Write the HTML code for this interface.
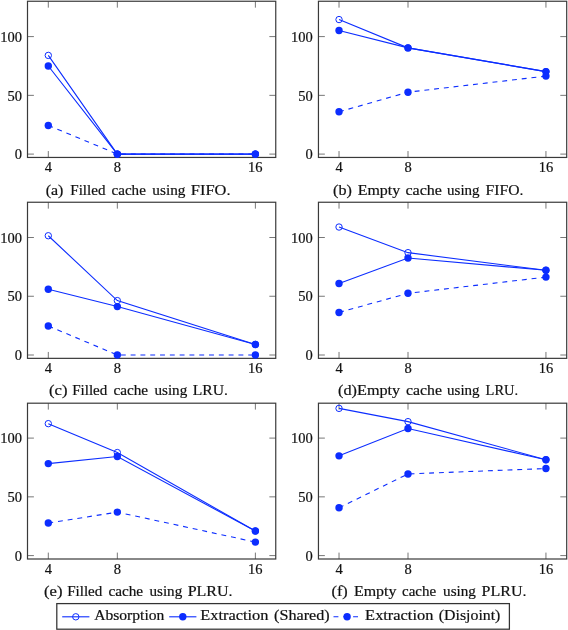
<!DOCTYPE html>
<html><head><meta charset="utf-8"><style>
html,body{margin:0;padding:0;background:#fff;}
body{width:568px;height:630px;overflow:hidden;}
svg{display:block;will-change:transform;}
text{font-family:"Liberation Serif",serif;font-size:14.2px;fill:#111;stroke:#111;stroke-width:0.2px;}
.xl{text-anchor:middle;}
.yl{text-anchor:end;}
.cap{text-anchor:middle;}
.ax{fill:none;stroke:#3a3a3a;stroke-width:1.2;}
.lg{fill:none;stroke:#333;stroke-width:1.25;}
.tk{stroke:#777;stroke-width:1;}
.ln{fill:none;stroke:rgb(12,45,255);stroke-width:1.1;}
.dash{stroke-dasharray:4.9 4.9;}
.mo{fill:none;stroke:rgb(12,45,255);stroke-width:1.0;}
.mf{fill:rgb(12,45,255);stroke:none;}
</style></head><body>
<svg width="568" height="630" viewBox="0 0 568 630">
<line class="tk" x1="48.3" y1="157.45" x2="48.3" y2="151.05"/>
<line class="tk" x1="48.3" y1="1.25" x2="48.3" y2="7.65"/>
<text class="xl" x="48.3" y="172.25" textLength="7.25" lengthAdjust="spacingAndGlyphs">4</text>
<line class="tk" x1="117.33" y1="157.45" x2="117.33" y2="151.05"/>
<line class="tk" x1="117.33" y1="1.25" x2="117.33" y2="7.65"/>
<text class="xl" x="117.33" y="172.25" textLength="7.25" lengthAdjust="spacingAndGlyphs">8</text>
<line class="tk" x1="255.38" y1="157.45" x2="255.38" y2="151.05"/>
<line class="tk" x1="255.38" y1="1.25" x2="255.38" y2="7.65"/>
<text class="xl" x="255.38" y="172.25" textLength="14.5" lengthAdjust="spacingAndGlyphs">16</text>
<line class="tk" x1="27.5" y1="154.1" x2="33.9" y2="154.1"/>
<line class="tk" x1="275.75" y1="154.1" x2="269.35" y2="154.1"/>
<text class="yl" x="21.9" y="159.3" textLength="7.25" lengthAdjust="spacingAndGlyphs">0</text>
<line class="tk" x1="27.5" y1="95.35" x2="33.9" y2="95.35"/>
<line class="tk" x1="275.75" y1="95.35" x2="269.35" y2="95.35"/>
<text class="yl" x="21.9" y="100.55" textLength="14.5" lengthAdjust="spacingAndGlyphs">50</text>
<line class="tk" x1="27.5" y1="36.6" x2="33.9" y2="36.6"/>
<line class="tk" x1="275.75" y1="36.6" x2="269.35" y2="36.6"/>
<text class="yl" x="21.9" y="41.8" textLength="21.75" lengthAdjust="spacingAndGlyphs">100</text>
<rect class="ax" x="27.5" y="1.25" width="248.25" height="156.2"/>
<polyline class="ln" points="48.3,55.4 117.33,154.1 255.38,154.1"/>
<circle class="mo" cx="48.3" cy="55.4" r="3.2"/>
<circle class="mo" cx="117.33" cy="154.1" r="3.2"/>
<circle class="mo" cx="255.38" cy="154.1" r="3.2"/>
<polyline class="ln" points="48.3,65.97 117.33,154.1 255.38,154.1"/>
<circle class="mf" cx="48.3" cy="65.97" r="3.7"/>
<circle class="mf" cx="117.33" cy="154.1" r="3.7"/>
<circle class="mf" cx="255.38" cy="154.1" r="3.7"/>
<polyline class="ln dash" points="48.3,125.43 117.33,154.1 255.38,154.1"/>
<circle class="mf" cx="48.3" cy="125.43" r="3.7"/>
<circle class="mf" cx="117.33" cy="154.1" r="3.7"/>
<circle class="mf" cx="255.38" cy="154.1" r="3.7"/>
<text class="w" x="45.73" y="195.0" textLength="17.72" lengthAdjust="spacingAndGlyphs">(a)</text>
<text class="w" x="70.28" y="195.0" textLength="35.17" lengthAdjust="spacingAndGlyphs">Filled</text>
<text class="w" x="111.57" y="195.0" textLength="34.27" lengthAdjust="spacingAndGlyphs">cache</text>
<text class="w" x="152.39" y="195.0" textLength="33.01" lengthAdjust="spacingAndGlyphs">using</text>
<text class="w" x="190.84" y="195.0" textLength="39.74" lengthAdjust="spacingAndGlyphs">FIFO.</text>
<line class="tk" x1="339.03" y1="157.45" x2="339.03" y2="151.05"/>
<line class="tk" x1="339.03" y1="1.25" x2="339.03" y2="7.65"/>
<text class="xl" x="339.03" y="172.25" textLength="7.25" lengthAdjust="spacingAndGlyphs">4</text>
<line class="tk" x1="408" y1="157.45" x2="408" y2="151.05"/>
<line class="tk" x1="408" y1="1.25" x2="408" y2="7.65"/>
<text class="xl" x="408" y="172.25" textLength="7.25" lengthAdjust="spacingAndGlyphs">8</text>
<line class="tk" x1="545.94" y1="157.45" x2="545.94" y2="151.05"/>
<line class="tk" x1="545.94" y1="1.25" x2="545.94" y2="7.65"/>
<text class="xl" x="545.94" y="172.25" textLength="14.5" lengthAdjust="spacingAndGlyphs">16</text>
<line class="tk" x1="318.45" y1="154.1" x2="324.85" y2="154.1"/>
<line class="tk" x1="566.7" y1="154.1" x2="560.3" y2="154.1"/>
<text class="yl" x="312.85" y="159.3" textLength="7.25" lengthAdjust="spacingAndGlyphs">0</text>
<line class="tk" x1="318.45" y1="95.35" x2="324.85" y2="95.35"/>
<line class="tk" x1="566.7" y1="95.35" x2="560.3" y2="95.35"/>
<text class="yl" x="312.85" y="100.55" textLength="14.5" lengthAdjust="spacingAndGlyphs">50</text>
<line class="tk" x1="318.45" y1="36.6" x2="324.85" y2="36.6"/>
<line class="tk" x1="566.7" y1="36.6" x2="560.3" y2="36.6"/>
<text class="yl" x="312.85" y="41.8" textLength="21.75" lengthAdjust="spacingAndGlyphs">100</text>
<rect class="ax" x="318.45" y="1.25" width="248.25" height="156.2"/>
<polyline class="ln" points="339.03,19.56 408,47.88 545.94,71.61"/>
<circle class="mo" cx="339.03" cy="19.56" r="3.2"/>
<circle class="mo" cx="408" cy="47.88" r="3.2"/>
<circle class="mo" cx="545.94" cy="71.61" r="3.2"/>
<polyline class="ln" points="339.03,30.49 408,47.88 545.94,71.61"/>
<circle class="mf" cx="339.03" cy="30.49" r="3.7"/>
<circle class="mf" cx="408" cy="47.88" r="3.7"/>
<circle class="mf" cx="545.94" cy="71.61" r="3.7"/>
<polyline class="ln dash" points="339.03,111.8 408,92.18 545.94,76.08"/>
<circle class="mf" cx="339.03" cy="111.8" r="3.7"/>
<circle class="mf" cx="408" cy="92.18" r="3.7"/>
<circle class="mf" cx="545.94" cy="76.08" r="3.7"/>
<text class="w" x="333.12" y="195.0" textLength="18.83" lengthAdjust="spacingAndGlyphs">(b)</text>
<text class="w" x="357.65" y="195.0" textLength="42.52" lengthAdjust="spacingAndGlyphs">Empty</text>
<text class="w" x="405.43" y="195.0" textLength="36.54" lengthAdjust="spacingAndGlyphs">cache</text>
<text class="w" x="447.09" y="195.0" textLength="32.50" lengthAdjust="spacingAndGlyphs">using</text>
<text class="w" x="485.56" y="195.0" textLength="37.87" lengthAdjust="spacingAndGlyphs">FIFO.</text>
<line class="tk" x1="48.3" y1="358.35" x2="48.3" y2="351.95"/>
<line class="tk" x1="48.3" y1="202.25" x2="48.3" y2="208.65"/>
<text class="xl" x="48.3" y="373.15" textLength="7.25" lengthAdjust="spacingAndGlyphs">4</text>
<line class="tk" x1="117.33" y1="358.35" x2="117.33" y2="351.95"/>
<line class="tk" x1="117.33" y1="202.25" x2="117.33" y2="208.65"/>
<text class="xl" x="117.33" y="373.15" textLength="7.25" lengthAdjust="spacingAndGlyphs">8</text>
<line class="tk" x1="255.38" y1="358.35" x2="255.38" y2="351.95"/>
<line class="tk" x1="255.38" y1="202.25" x2="255.38" y2="208.65"/>
<text class="xl" x="255.38" y="373.15" textLength="14.5" lengthAdjust="spacingAndGlyphs">16</text>
<line class="tk" x1="27.5" y1="355" x2="33.9" y2="355"/>
<line class="tk" x1="275.75" y1="355" x2="269.35" y2="355"/>
<text class="yl" x="21.9" y="360.2" textLength="7.25" lengthAdjust="spacingAndGlyphs">0</text>
<line class="tk" x1="27.5" y1="296.25" x2="33.9" y2="296.25"/>
<line class="tk" x1="275.75" y1="296.25" x2="269.35" y2="296.25"/>
<text class="yl" x="21.9" y="301.45" textLength="14.5" lengthAdjust="spacingAndGlyphs">50</text>
<line class="tk" x1="27.5" y1="237.5" x2="33.9" y2="237.5"/>
<line class="tk" x1="275.75" y1="237.5" x2="269.35" y2="237.5"/>
<text class="yl" x="21.9" y="242.7" textLength="21.75" lengthAdjust="spacingAndGlyphs">100</text>
<rect class="ax" x="27.5" y="202.25" width="248.25" height="156.1"/>
<polyline class="ln" points="48.3,235.74 117.33,300.6 255.38,344.43"/>
<circle class="mo" cx="48.3" cy="235.74" r="3.2"/>
<circle class="mo" cx="117.33" cy="300.6" r="3.2"/>
<circle class="mo" cx="255.38" cy="344.43" r="3.2"/>
<polyline class="ln" points="48.3,289.32 117.33,306.59 255.38,344.43"/>
<circle class="mf" cx="48.3" cy="289.32" r="3.7"/>
<circle class="mf" cx="117.33" cy="306.59" r="3.7"/>
<circle class="mf" cx="255.38" cy="344.43" r="3.7"/>
<polyline class="ln dash" points="48.3,325.98 117.33,355 255.38,355"/>
<circle class="mf" cx="48.3" cy="325.98" r="3.7"/>
<circle class="mf" cx="117.33" cy="355" r="3.7"/>
<circle class="mf" cx="255.38" cy="355" r="3.7"/>
<text class="w" x="49.00" y="394.9" textLength="18.48" lengthAdjust="spacingAndGlyphs">(c)</text>
<text class="w" x="72.18" y="394.9" textLength="35.17" lengthAdjust="spacingAndGlyphs">Filled</text>
<text class="w" x="113.46" y="394.9" textLength="34.69" lengthAdjust="spacingAndGlyphs">cache</text>
<text class="w" x="154.49" y="394.9" textLength="32.70" lengthAdjust="spacingAndGlyphs">using</text>
<text class="w" x="192.66" y="394.9" textLength="35.19" lengthAdjust="spacingAndGlyphs">LRU.</text>
<line class="tk" x1="339.03" y1="358.35" x2="339.03" y2="351.95"/>
<line class="tk" x1="339.03" y1="202.25" x2="339.03" y2="208.65"/>
<text class="xl" x="339.03" y="373.15" textLength="7.25" lengthAdjust="spacingAndGlyphs">4</text>
<line class="tk" x1="408" y1="358.35" x2="408" y2="351.95"/>
<line class="tk" x1="408" y1="202.25" x2="408" y2="208.65"/>
<text class="xl" x="408" y="373.15" textLength="7.25" lengthAdjust="spacingAndGlyphs">8</text>
<line class="tk" x1="545.94" y1="358.35" x2="545.94" y2="351.95"/>
<line class="tk" x1="545.94" y1="202.25" x2="545.94" y2="208.65"/>
<text class="xl" x="545.94" y="373.15" textLength="14.5" lengthAdjust="spacingAndGlyphs">16</text>
<line class="tk" x1="318.45" y1="355" x2="324.85" y2="355"/>
<line class="tk" x1="566.7" y1="355" x2="560.3" y2="355"/>
<text class="yl" x="312.85" y="360.2" textLength="7.25" lengthAdjust="spacingAndGlyphs">0</text>
<line class="tk" x1="318.45" y1="296.25" x2="324.85" y2="296.25"/>
<line class="tk" x1="566.7" y1="296.25" x2="560.3" y2="296.25"/>
<text class="yl" x="312.85" y="301.45" textLength="14.5" lengthAdjust="spacingAndGlyphs">50</text>
<line class="tk" x1="318.45" y1="237.5" x2="324.85" y2="237.5"/>
<line class="tk" x1="566.7" y1="237.5" x2="560.3" y2="237.5"/>
<text class="yl" x="312.85" y="242.7" textLength="21.75" lengthAdjust="spacingAndGlyphs">100</text>
<rect class="ax" x="318.45" y="202.25" width="248.25" height="156.1"/>
<polyline class="ln" points="339.03,227.04 408,252.66 545.94,270.28"/>
<circle class="mo" cx="339.03" cy="227.04" r="3.2"/>
<circle class="mo" cx="408" cy="252.66" r="3.2"/>
<circle class="mo" cx="545.94" cy="270.28" r="3.2"/>
<polyline class="ln" points="339.03,283.56 408,258.06 545.94,270.28"/>
<circle class="mf" cx="339.03" cy="283.56" r="3.7"/>
<circle class="mf" cx="408" cy="258.06" r="3.7"/>
<circle class="mf" cx="545.94" cy="270.28" r="3.7"/>
<polyline class="ln dash" points="339.03,312.46 408,293.31 545.94,277.1"/>
<circle class="mf" cx="339.03" cy="312.46" r="3.7"/>
<circle class="mf" cx="408" cy="293.31" r="3.7"/>
<circle class="mf" cx="545.94" cy="277.1" r="3.7"/>
<text class="w" x="338.12" y="394.9" textLength="62.11" lengthAdjust="spacingAndGlyphs">(d)Empty</text>
<text class="w" x="406.04" y="394.9" textLength="35.92" lengthAdjust="spacingAndGlyphs">cache</text>
<text class="w" x="447.09" y="394.9" textLength="32.50" lengthAdjust="spacingAndGlyphs">using</text>
<text class="w" x="485.59" y="394.9" textLength="32.47" lengthAdjust="spacingAndGlyphs">LRU.</text>
<line class="tk" x1="48.3" y1="559" x2="48.3" y2="552.6"/>
<line class="tk" x1="48.3" y1="403.2" x2="48.3" y2="409.6"/>
<text class="xl" x="48.3" y="573.8" textLength="7.25" lengthAdjust="spacingAndGlyphs">4</text>
<line class="tk" x1="117.33" y1="559" x2="117.33" y2="552.6"/>
<line class="tk" x1="117.33" y1="403.2" x2="117.33" y2="409.6"/>
<text class="xl" x="117.33" y="573.8" textLength="7.25" lengthAdjust="spacingAndGlyphs">8</text>
<line class="tk" x1="255.38" y1="559" x2="255.38" y2="552.6"/>
<line class="tk" x1="255.38" y1="403.2" x2="255.38" y2="409.6"/>
<text class="xl" x="255.38" y="573.8" textLength="14.5" lengthAdjust="spacingAndGlyphs">16</text>
<line class="tk" x1="27.5" y1="555.6" x2="33.9" y2="555.6"/>
<line class="tk" x1="275.75" y1="555.6" x2="269.35" y2="555.6"/>
<text class="yl" x="21.9" y="560.8" textLength="7.25" lengthAdjust="spacingAndGlyphs">0</text>
<line class="tk" x1="27.5" y1="496.85" x2="33.9" y2="496.85"/>
<line class="tk" x1="275.75" y1="496.85" x2="269.35" y2="496.85"/>
<text class="yl" x="21.9" y="502.05" textLength="14.5" lengthAdjust="spacingAndGlyphs">50</text>
<line class="tk" x1="27.5" y1="438.1" x2="33.9" y2="438.1"/>
<line class="tk" x1="275.75" y1="438.1" x2="269.35" y2="438.1"/>
<text class="yl" x="21.9" y="443.3" textLength="21.75" lengthAdjust="spacingAndGlyphs">100</text>
<rect class="ax" x="27.5" y="403.2" width="248.25" height="155.8"/>
<polyline class="ln" points="48.3,423.65 117.33,452.55 255.38,531.04"/>
<circle class="mo" cx="48.3" cy="423.65" r="3.2"/>
<circle class="mo" cx="117.33" cy="452.55" r="3.2"/>
<circle class="mo" cx="255.38" cy="531.04" r="3.2"/>
<polyline class="ln" points="48.3,463.6 117.33,456.55 255.38,531.04"/>
<circle class="mf" cx="48.3" cy="463.6" r="3.7"/>
<circle class="mf" cx="117.33" cy="456.55" r="3.7"/>
<circle class="mf" cx="255.38" cy="531.04" r="3.7"/>
<polyline class="ln dash" points="48.3,523.05 117.33,512.12 255.38,542.09"/>
<circle class="mf" cx="48.3" cy="523.05" r="3.7"/>
<circle class="mf" cx="117.33" cy="512.12" r="3.7"/>
<circle class="mf" cx="255.38" cy="542.09" r="3.7"/>
<text class="w" x="44.00" y="595.9" textLength="18.48" lengthAdjust="spacingAndGlyphs">(e)</text>
<text class="w" x="67.18" y="595.9" textLength="35.17" lengthAdjust="spacingAndGlyphs">Filled</text>
<text class="w" x="108.46" y="595.9" textLength="34.69" lengthAdjust="spacingAndGlyphs">cache</text>
<text class="w" x="149.49" y="595.9" textLength="32.70" lengthAdjust="spacingAndGlyphs">using</text>
<text class="w" x="187.65" y="595.9" textLength="44.92" lengthAdjust="spacingAndGlyphs">PLRU.</text>
<line class="tk" x1="339.03" y1="559" x2="339.03" y2="552.6"/>
<line class="tk" x1="339.03" y1="403.2" x2="339.03" y2="409.6"/>
<text class="xl" x="339.03" y="573.8" textLength="7.25" lengthAdjust="spacingAndGlyphs">4</text>
<line class="tk" x1="408" y1="559" x2="408" y2="552.6"/>
<line class="tk" x1="408" y1="403.2" x2="408" y2="409.6"/>
<text class="xl" x="408" y="573.8" textLength="7.25" lengthAdjust="spacingAndGlyphs">8</text>
<line class="tk" x1="545.94" y1="559" x2="545.94" y2="552.6"/>
<line class="tk" x1="545.94" y1="403.2" x2="545.94" y2="409.6"/>
<text class="xl" x="545.94" y="573.8" textLength="14.5" lengthAdjust="spacingAndGlyphs">16</text>
<line class="tk" x1="318.45" y1="555.6" x2="324.85" y2="555.6"/>
<line class="tk" x1="566.7" y1="555.6" x2="560.3" y2="555.6"/>
<text class="yl" x="312.85" y="560.8" textLength="7.25" lengthAdjust="spacingAndGlyphs">0</text>
<line class="tk" x1="318.45" y1="496.85" x2="324.85" y2="496.85"/>
<line class="tk" x1="566.7" y1="496.85" x2="560.3" y2="496.85"/>
<text class="yl" x="312.85" y="502.05" textLength="14.5" lengthAdjust="spacingAndGlyphs">50</text>
<line class="tk" x1="318.45" y1="438.1" x2="324.85" y2="438.1"/>
<line class="tk" x1="566.7" y1="438.1" x2="560.3" y2="438.1"/>
<text class="yl" x="312.85" y="443.3" textLength="21.75" lengthAdjust="spacingAndGlyphs">100</text>
<rect class="ax" x="318.45" y="403.2" width="248.25" height="155.8"/>
<polyline class="ln" points="339.03,408.37 408,421.65 545.94,459.72"/>
<circle class="mo" cx="339.03" cy="408.37" r="3.2"/>
<circle class="mo" cx="408" cy="421.65" r="3.2"/>
<circle class="mo" cx="545.94" cy="459.72" r="3.2"/>
<polyline class="ln" points="339.03,455.84 408,428.47 545.94,459.72"/>
<circle class="mf" cx="339.03" cy="455.84" r="3.7"/>
<circle class="mf" cx="408" cy="428.47" r="3.7"/>
<circle class="mf" cx="545.94" cy="459.72" r="3.7"/>
<polyline class="ln dash" points="339.03,507.78 408,473.94 545.94,468.53"/>
<circle class="mf" cx="339.03" cy="507.78" r="3.7"/>
<circle class="mf" cx="408" cy="473.94" r="3.7"/>
<circle class="mf" cx="545.94" cy="468.53" r="3.7"/>
<text class="w" x="331.51" y="595.9" textLength="16.26" lengthAdjust="spacingAndGlyphs">(f)</text>
<text class="w" x="353.95" y="595.9" textLength="42.52" lengthAdjust="spacingAndGlyphs">Empty</text>
<text class="w" x="402.07" y="595.9" textLength="34.07" lengthAdjust="spacingAndGlyphs">cache</text>
<text class="w" x="443.09" y="595.9" textLength="32.80" lengthAdjust="spacingAndGlyphs">using</text>
<text class="w" x="481.55" y="595.9" textLength="44.92" lengthAdjust="spacingAndGlyphs">PLRU.</text>

<rect class="lg" x="56.8" y="603.6" width="452.6" height="25.6"/>
<line class="ln" x1="62.2" y1="616.8" x2="89.4" y2="616.8"/><circle class="mo" cx="75.8" cy="616.8" r="3.2"/>
<text class="w" x="94.19" y="620.4" textLength="70.13" lengthAdjust="spacingAndGlyphs">Absorption</text>
<text class="w" x="200.24" y="620.4" textLength="68.24" lengthAdjust="spacingAndGlyphs">Extraction</text>
<text class="w" x="274.02" y="620.4" textLength="55.65" lengthAdjust="spacingAndGlyphs">(Shared)</text>
<text class="w" x="365.14" y="620.4" textLength="68.24" lengthAdjust="spacingAndGlyphs">Extraction</text>
<text class="w" x="438.83" y="620.4" textLength="61.56" lengthAdjust="spacingAndGlyphs">(Disjoint)</text>
<line class="ln" x1="169.2" y1="616.8" x2="196.4" y2="616.8"/><circle class="mf" cx="182.8" cy="616.8" r="3.7"/>

<line class="ln dash" x1="333.5" y1="616.8" x2="360.7" y2="616.8"/><circle class="mf" cx="347.1" cy="616.8" r="3.7"/>


</svg>
</body></html>
